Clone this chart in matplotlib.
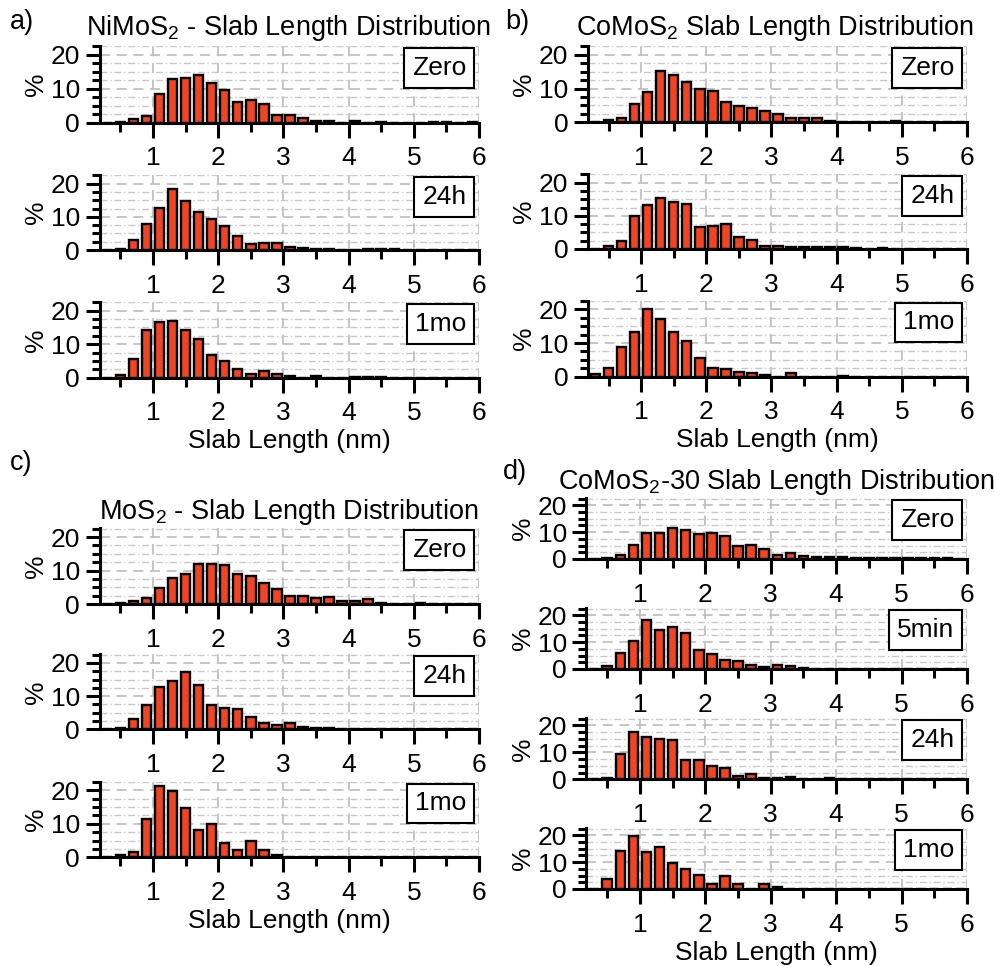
import matplotlib
matplotlib.use("Agg")
import matplotlib.pyplot as plt
from matplotlib.ticker import MultipleLocator

plt.rcParams['font.family'] = ['Liberation Sans', 'DejaVu Sans']
plt.rcParams['mathtext.fontset'] = 'custom'
plt.rcParams['mathtext.rm'] = 'Liberation Sans'
plt.rcParams['mathtext.it'] = 'Liberation Sans:italic'

# bin centres (nm)
bins = [0.3, 0.5, 0.7, 0.9, 1.1, 1.3, 1.5, 1.7, 1.9, 2.1, 2.3, 2.5, 2.7, 2.9, 3.1,
        3.3, 3.5, 3.7, 3.9, 4.1, 4.3, 4.5, 4.7, 4.9, 5.1, 5.3, 5.5, 5.7, 5.9]

# a) NiMoS2
a_zero = [0.0, 0.3, 1.0, 2.0, 8.4, 12.8, 13.3, 14.1, 11.8, 9.7, 6.0, 6.7, 5.4, 2.3, 2.3,
          1.3, 0.6, 0.6, 0.0, 0.4, 0.0, 0.3, 0.0, 0.0, 0.0, 0.2, 0.2, 0.0, 0.2]
a_24h = [0.0, 0.3, 3.0, 7.9, 12.6, 18.3, 14.7, 11.4, 9.3, 7.1, 4.1, 1.8, 2.0, 2.0, 1.0,
         0.7, 0.4, 0.3, 0.0, 0.0, 0.3, 0.3, 0.3, 0.0, 0.0, 0.0, 0.0, 0.0, 0.0]
a_1mo = [0.0, 0.8, 5.5, 14.1, 16.6, 17.0, 14.1, 11.6, 6.9, 4.9, 2.6, 1.2, 2.0, 1.2, 0.6,
         0.0, 0.6, 0.0, 0.0, 0.2, 0.3, 0.2, 0.0, 0.0, 0.0, 0.0, 0.0, 0.0, 0.0]

# b) CoMoS2
b_zero = [0.0, 0.7, 1.2, 5.3, 8.9, 15.3, 14.1, 11.8, 10.0, 9.4, 6.1, 4.9, 4.2, 3.2, 2.5,
          1.4, 1.2, 1.4, 0.5, 0.2, 0.2, 0.2, 0.0, 0.3, 0.0, 0.0, 0.0, 0.0, 0.0]
b_24h = [0.0, 0.9, 2.5, 9.8, 13.4, 15.4, 14.1, 13.6, 6.6, 6.8, 7.6, 3.6, 2.7, 1.0, 1.0,
         0.7, 0.5, 0.7, 0.7, 0.7, 0.3, 0.0, 0.3, 0.0, 0.0, 0.0, 0.0, 0.0, 0.0]
b_1mo = [0.7, 2.7, 8.7, 13.2, 20.2, 17.2, 13.2, 10.7, 5.6, 2.6, 2.3, 1.3, 1.0, 0.5, 0.0,
         1.0, 0.0, 0.0, 0.0, 0.3, 0.0, 0.0, 0.0, 0.0, 0.0, 0.0, 0.0, 0.0, 0.0]

# c) MoS2
c_zero = [0.0, 0.5, 1.0, 2.0, 4.7, 7.7, 9.1, 12.1, 11.9, 11.7, 9.1, 8.5, 6.4, 4.6, 2.6,
          2.5, 2.0, 2.3, 1.0, 1.0, 1.6, 0.3, 0.0, 0.2, 0.3, 0.0, 0.0, 0.0, 0.0]
c_24h = [0.0, 0.3, 3.0, 7.4, 12.6, 14.6, 17.2, 13.4, 7.4, 6.4, 6.1, 3.6, 2.0, 1.3, 2.0,
         0.8, 0.3, 0.3, 0.0, 0.1, 0.1, 0.1, 0.0, 0.0, 0.0, 0.0, 0.0, 0.0, 0.0]
c_1mo = [0.0, 0.7, 1.5, 11.4, 21.3, 19.8, 14.8, 8.1, 10.1, 4.2, 2.2, 4.9, 2.2, 0.7, 0.0,
         0.0, 0.0, 0.0, 0.0, 0.0, 0.0, 0.0, 0.0, 0.0, 0.0, 0.0, 0.0, 0.0, 0.0]

# d) CoMoS2-30
d_zero = [0.0, 0.4, 1.5, 5.1, 9.8, 9.8, 11.4, 10.7, 9.3, 9.8, 8.5, 4.8, 5.3, 3.6, 1.5,
          2.1, 1.2, 0.7, 0.7, 0.7, 0.4, 0.2, 0.2, 0.2, 0.2, 0.2, 0.2, 0.2, 0.0]
d_5min = [0.0, 1.1, 5.9, 10.4, 18.1, 14.6, 15.5, 13.3, 7.1, 5.6, 3.4, 3.0, 1.4, 0.7, 1.4,
          1.0, 0.5, 0.0, 0.0, 0.0, 0.0, 0.0, 0.0, 0.0, 0.0, 0.0, 0.0, 0.0, 0.0]
d_24h = [0.0, 0.3, 9.5, 17.5, 15.7, 15.1, 14.5, 7.2, 7.2, 5.0, 4.2, 1.4, 2.0, 0.5, 0.5,
         0.7, 0.0, 0.0, 0.5, 0.0, 0.0, 0.0, 0.0, 0.0, 0.0, 0.0, 0.0, 0.0, 0.0]
d_1mo = [0.0, 3.6, 14.2, 19.8, 13.8, 15.7, 9.8, 7.4, 5.2, 1.9, 4.9, 1.9, 0.0, 1.9, 0.9,
         0.0, 0.0, 0.0, 0.0, 0.0, 0.0, 0.0, 0.0, 0.0, 0.0, 0.0, 0.0, 0.0, 0.0]

W, H = 994, 966
fig = plt.figure(figsize=(W / 100, H / 100), dpi=100)
bar_color = '#EF4524'
fs = 19


def make_ax(x0, x1, ytop, ybot, vals, tag):
    ax = fig.add_axes([x0 / W, 1 - ybot / H, (x1 - x0) / W, (ybot - ytop) / H])
    ax.bar(bins, vals, width=0.145, color=bar_color, edgecolor='black', linewidth=1.7)
    ax.set_xlim(0.18, 6.0)
    ax.set_ylim(0, 22.6)
    ax.set_axisbelow(True)
    for s in ['top', 'right']:
        ax.spines[s].set_visible(False)
    for s in ['left', 'bottom']:
        ax.spines[s].set_linewidth(2.2)
    ax.xaxis.set_major_locator(MultipleLocator(1))
    ax.xaxis.set_minor_locator(MultipleLocator(0.5))
    ax.yaxis.set_major_locator(MultipleLocator(10))
    ax.yaxis.set_minor_locator(MultipleLocator(2.5))
    ax.tick_params(axis='x', which='major', direction='out', length=11, width=2.2,
                   labelsize=fs, pad=6)
    ax.tick_params(axis='x', which='minor', direction='out', length=6.5, width=2.2)
    ax.tick_params(axis='y', which='major', direction='out', length=10, width=2.2,
                   labelsize=fs, pad=4)
    ax.tick_params(axis='y', which='minor', direction='out', length=5.5, width=2.2)
    ax.grid(True, which='major', color='#BBBBBB', linestyle=(0, (6, 4)), linewidth=1.2)
    ax.grid(True, which='minor', axis='y', color='#C8C8C8', linestyle=(0, (5, 2, 1, 2)),
            linewidth=1.0)
    ax.set_ylabel('%', fontsize=fs, labelpad=2)
    ax.annotate(tag, xy=(1, 1), xycoords='axes fraction', xytext=(-9, -7),
                textcoords='offset points', ha='right', va='top', fontsize=fs,
                bbox=dict(boxstyle='square,pad=0.3', fc='white', ec='black', lw=1.5))
    return ax


# panel a
make_ax(99.5, 479, 46, 122.7, a_zero, 'Zero')
make_ax(99.5, 479, 175, 250, a_24h, '24h')
ax = make_ax(99.5, 479, 302, 377.7, a_1mo, '1mo')
ax.set_xlabel('Slab Length (nm)', fontsize=fs, labelpad=3)

# panel b
make_ax(587.7, 967, 46, 122.3, b_zero, 'Zero')
make_ax(587.7, 967, 174, 249, b_24h, '24h')
ax = make_ax(587.7, 967, 300.7, 376.7, b_1mo, '1mo')
ax.set_xlabel('Slab Length (nm)', fontsize=fs, labelpad=3)

# panel c
make_ax(99.5, 479, 528.3, 604.3, c_zero, 'Zero')
make_ax(99.5, 479, 654.3, 729.3, c_24h, '24h')
ax = make_ax(99.5, 479, 781.7, 857.3, c_1mo, '1mo')
ax.set_xlabel('Slab Length (nm)', fontsize=fs, labelpad=3)

# panel d
make_ax(586.3, 967, 498.3, 559, d_zero, 'Zero')
make_ax(586.3, 967, 608.3, 669, d_5min, '5min')
make_ax(586.3, 967, 718.3, 779.3, d_24h, '24h')
ax = make_ax(586.3, 967, 828.3, 889, d_1mo, '1mo')
ax.set_xlabel('Slab Length (nm)', fontsize=fs, labelpad=3)

# panel letters and titles
tfs = 19.5
fig.text(10 / W, 1 - 22 / H, 'a)', fontsize=tfs, va='center', ha='left')
fig.text(505 / W, 1 - 22 / H, 'b)', fontsize=tfs, va='center', ha='left')
fig.text(10 / W, 1 - 463 / H, 'c)', fontsize=tfs, va='center', ha='left')
fig.text(503 / W, 1 - 472 / H, 'd)', fontsize=tfs, va='center', ha='left')
fig.text(289 / W, 1 - 28 / H, 'NiMoS$_2$ - Slab Length Distribution', fontsize=tfs,
         va='center', ha='center')
fig.text(775 / W, 1 - 28 / H, 'CoMoS$_2$ Slab Length Distribution', fontsize=tfs,
         va='center', ha='center')
fig.text(289 / W, 1 - 512 / H, 'MoS$_2$ - Slab Length Distribution', fontsize=tfs,
         va='center', ha='center')
fig.text(776 / W, 1 - 482 / H, 'CoMoS$_2$-30 Slab Length Distribution', fontsize=tfs,
         va='center', ha='center')

plt.savefig('out.png', dpi=100)
